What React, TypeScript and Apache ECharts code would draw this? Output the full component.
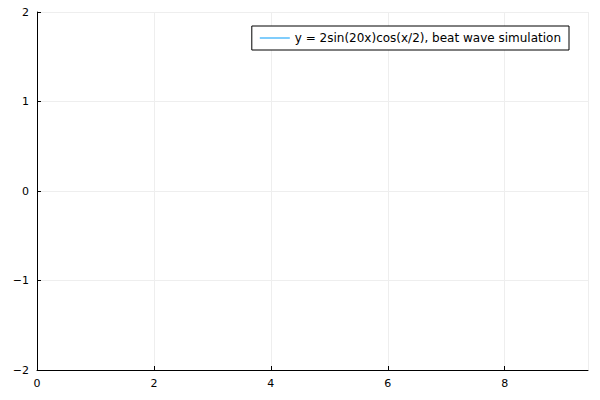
import { useEffect, useRef } from 'react';
import * as echarts from 'echarts';

const seriesName = 'y = 2sin(20x)cos(x/2), beat wave simulation';
const xTicks = [0, 2, 4, 6, 8];
const yTicks = [-2, -1, 0, 1, 2];
const xMax = 3 * Math.PI;
const seriesData: [number, number][] = [];

export default function App() {
  const ref = useRef<HTMLDivElement>(null);

  useEffect(() => {
    if (!ref.current) return;
    const chart = echarts.init(ref.current, null, { renderer: 'svg' });
    const fmt = (v: number) => (v < 0 ? '\u2212' + Math.abs(v) : String(v));
    chart.setOption({
      animation: false,
      textStyle: { fontFamily: 'DejaVu Sans' },
      grid: { left: 37, right: 12, top: 12, bottom: 30 },
      legend: {
        right: 31,
        top: 26,
        data: [seriesName],
        icon: 'path://M0,0 L30,0 L30,1 L0,1 Z',
        itemWidth: 30,
        itemHeight: 1,
        itemGap: 4,
        padding: [6, 8, 6, 8],
        borderColor: '#000',
        borderWidth: 1,
        borderRadius: 0,
        backgroundColor: '#fff',
        textStyle: { fontSize: 12, color: '#000', fontFamily: 'DejaVu Sans' },
      },
      xAxis: {
        type: 'value',
        min: 0,
        max: xMax,
        interval: 2,
        axisLine: { show: true, onZero: false, lineStyle: { color: '#000' } },
        axisTick: { show: true, inside: true, length: 4, lineStyle: { color: '#000' } },
        axisLabel: {
          color: '#000',
          fontSize: 11,
          showMaxLabel: false,
          formatter: (v: number) => (xTicks.includes(v) ? fmt(v) : ''),
        },
        splitLine: { show: true, lineStyle: { color: '#eeeeee' } },
      },
      yAxis: {
        type: 'value',
        min: yTicks[0],
        max: yTicks[yTicks.length - 1],
        interval: 1,
        axisLine: { show: true, onZero: false, lineStyle: { color: '#000' } },
        axisTick: { show: true, inside: true, length: 4, lineStyle: { color: '#000' } },
        axisLabel: { color: '#000', fontSize: 11, formatter: fmt },
        splitLine: { show: true, lineStyle: { color: '#eeeeee' } },
      },
      series: [
        {
          name: seriesName,
          type: 'line',
          data: seriesData,
          showSymbol: false,
          itemStyle: { color: '#009af9' },
          lineStyle: { color: '#009af9', width: 1 },
        },
      ],
    });
    return () => chart.dispose();
  }, []);

  return <div ref={ref} style={{ position: 'absolute', left: 0, top: 0, width: 600, height: 400 }} />;
}
